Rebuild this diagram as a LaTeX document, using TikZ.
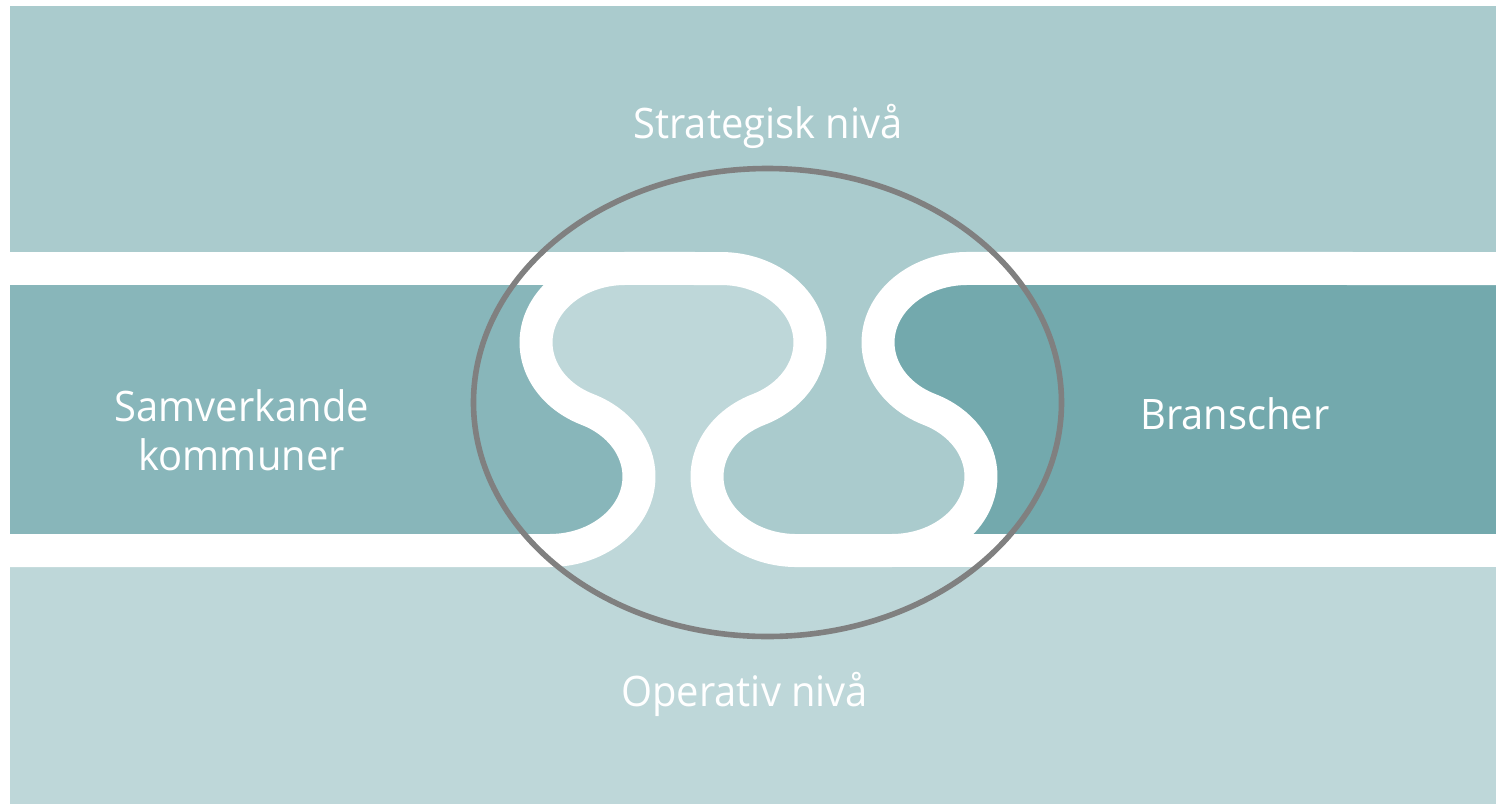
\documentclass[tikz,border=0pt]{standalone}
\usepackage{fontspec}
\setmainfont{Open Sans}[FakeStretch=0.95]
\definecolor{topc}{HTML}{AACBCD}
\definecolor{midl}{HTML}{88B6BA}
\definecolor{midr}{HTML}{73A9AD}
\definecolor{botc}{HTML}{BED7D9}
\definecolor{ringc}{HTML}{808080}
\begin{document}
\begin{tikzpicture}[x=0.5pt,y=-0.5pt,
  lbl/.style={text=white, font=\fontsize{21}{24.5}\selectfont, inner sep=0pt, anchor=base},
  gapline/.style={draw=white, line width=16.5pt, line join=round, line cap=butt},
  ell/.style={x radius=89.4, y radius=74}]
\useasboundingbox (0,0) rectangle (1496,804);
% base: bottom colour
\fill[botc] (10,6) rectangle (1496,804);
% top colour region (top band + bulb between B and C)
\fill[topc] (10,6) -- (1496,6) -- (1496,268.5) -- (967.4,268.5)
  arc[ell, start angle=270, end angle=115.1]
  arc[ell, start angle=-64.9, end angle=90]
  -- (796.4,550.5)
  arc[ell, start angle=90, end angle=244.9]
  arc[ell, start angle=424.9, end angle=270]
  -- (10,268.5) -- cycle;
% middle left region
\fill[midl] (10,268.5) -- (625.4,268.5)
  arc[ell, start angle=270, end angle=115.1]
  arc[ell, start angle=-64.9, end angle=90]
  -- (10,550.5) -- cycle;
% middle right region
\fill[midr] (967.4,268.5)
  arc[ell, start angle=270, end angle=115.1]
  arc[ell, start angle=-64.9, end angle=90]
  -- (1496,550.5) -- (1496,268.5) -- cycle;
% white gaps
\path[gapline] (0,268.5) -- (625.4,268.5);
\path[gapline] (891.6,550.5) -- (1496,550.5);
\path[gapline] (0,550.5) -- (549.6,550.5)
  arc[ell, start angle=90, end angle=-64.9]
  arc[ell, start angle=115.1, end angle=270]
  -- (720.6,268.5)
  arc[ell, start angle=270, end angle=424.9]
  arc[ell, start angle=244.9, end angle=90]
  -- (891.6,550.5)
  arc[ell, start angle=90, end angle=-64.9]
  arc[ell, start angle=115.1, end angle=270]
  -- (1496,268.5);
% ring
\draw[ringc, line width=2.8pt] (767.5,402.5) ellipse [x radius=294, y radius=234];
% labels
\node[lbl] (strat) at (768,138.3) {Strategisk nivå};
\node[lbl] (oper) at (744.7,706) {Operativ nivå};
\node[lbl] (bran) at (1235,429) {Branscher};
\node[lbl] (samv) at (241.7,421.7) {Samverkande};
\node[lbl] (komm) at (241.7,470.7) {kommuner};
\end{tikzpicture}
\end{document}
